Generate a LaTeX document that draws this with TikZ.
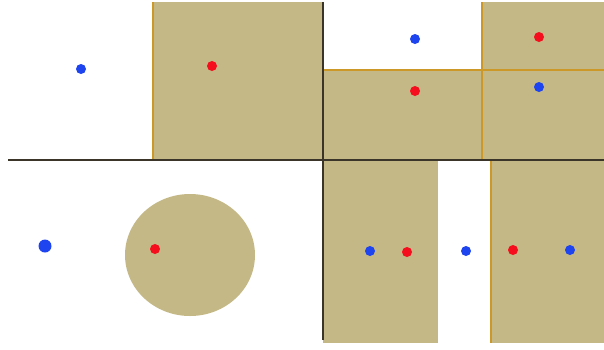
\documentclass[tikz,border=0pt]{standalone}
\definecolor{tan}{HTML}{C4B886}
\definecolor{edge}{HTML}{CC9828}
\definecolor{dark}{HTML}{3A3528}
\definecolor{bdot}{HTML}{1E44F0}
\definecolor{rdot}{HTML}{F50F1E}
\tikzset{
  region/.style={fill=tan, draw=none},
  border/.style={draw=edge, line width=2pt},
  wall/.style={draw=dark, line width=1.4pt},
  bluept/.style={circle, fill=bdot, inner sep=0pt, minimum size=10pt},
  redpt/.style={circle, fill=rdot, inner sep=0pt, minimum size=10pt}
}
\begin{document}
\begin{tikzpicture}[x=1pt,y=-1pt]
\useasboundingbox (0,0) rectangle (604,349);
% regions
\fill[region] (153,2) rectangle (323,160);
\fill[region] (323,69) rectangle (604,160);
\fill[region] (481,2) rectangle (604,69);
\fill[region] (323,160) rectangle (438,343);
\fill[region] (491,160) rectangle (604,343);
\fill[region] (190,255) ellipse [x radius=65, y radius=61];
% borders
\draw[border, line width=1.3pt] (153,2) -- (153,160);
\draw[border] (323,70) -- (604,70);
\draw[border] (482,2) -- (482,160);
\draw[border, line width=1.2pt] (491,160) -- (491,343);
% walls
\draw[wall] (8,160) -- (604,160);
\draw[wall] (323,2) -- (323,340);
% dots
\node[bluept] (b1) at (81,69) {};
\node[redpt] (r1) at (212,66) {};
\node[bluept] (b2) at (415,39) {};
\node[redpt] (r2) at (539,37) {};
\node[redpt] (r3) at (415,91) {};
\node[bluept] (b3) at (539,87) {};
\node[bluept, minimum size=13pt] (b4) at (45,246) {};
\node[redpt] (r4) at (155,249) {};
\node[bluept] (b5) at (370,251) {};
\node[redpt] (r5) at (407,252) {};
\node[bluept] (b6) at (466,251) {};
\node[redpt] (r6) at (513,250) {};
\node[bluept] (b7) at (570,250) {};
\end{tikzpicture}
\end{document}
